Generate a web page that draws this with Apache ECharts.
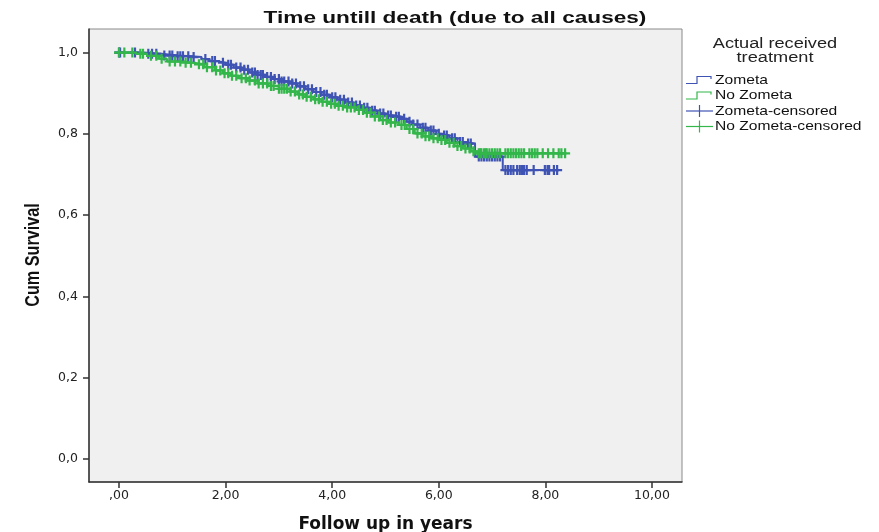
<!DOCTYPE html>
<html>
<head>
<meta charset="utf-8">
<script src="https://cdn.jsdelivr.net/npm/echarts@6/dist/echarts.min.js"></script>
<style>
  html, body { margin: 0; padding: 0; background: #ffffff; }
  #chart { width: 879px; height: 532px; }
</style>
</head>
<body>
<div id="chart"></div>
<script>
// Kaplan-Meier estimates: event times (years) and survival after each event
const zometaTimes = [0.00, 0.45, 0.80, 1.10, 1.35, 1.55, 1.70, 1.85, 2.00, 2.15, 2.30, 2.45, 2.60, 2.75, 2.90, 3.05, 3.20, 3.35, 3.50, 3.65, 3.80, 3.95, 4.10, 4.25, 4.40, 4.55, 4.70, 4.85, 5.00, 5.15, 5.30, 5.40, 5.50, 5.65, 5.80, 5.95, 6.05, 6.20, 6.35, 6.50, 6.68, 7.20];
const zometaSurv  = [1.000, 0.997, 0.993, 0.991, 0.989, 0.984, 0.979, 0.975, 0.970, 0.963, 0.958, 0.951, 0.945, 0.940, 0.935, 0.929, 0.924, 0.917, 0.910, 0.903, 0.896, 0.890, 0.884, 0.877, 0.870, 0.864, 0.857, 0.850, 0.845, 0.842, 0.837, 0.830, 0.823, 0.815, 0.808, 0.800, 0.796, 0.789, 0.780, 0.776, 0.744, 0.711];

const noZometaTimes = [0.00, 0.30, 0.55, 0.75, 0.90, 1.20, 1.40, 1.60, 1.80, 1.95, 2.10, 2.25, 2.40, 2.60, 2.80, 3.00, 3.20, 3.35, 3.50, 3.65, 3.80, 3.95, 4.10, 4.25, 4.45, 4.60, 4.75, 4.90, 5.05, 5.25, 5.40, 5.55, 5.70, 5.85, 6.00, 6.15, 6.30, 6.45, 6.60, 6.72];
const noZometaSurv  = [1.000, 0.997, 0.992, 0.985, 0.978, 0.975, 0.971, 0.964, 0.956, 0.949, 0.943, 0.937, 0.931, 0.924, 0.918, 0.911, 0.904, 0.897, 0.891, 0.885, 0.879, 0.874, 0.869, 0.865, 0.859, 0.852, 0.843, 0.834, 0.828, 0.822, 0.812, 0.801, 0.794, 0.789, 0.785, 0.778, 0.770, 0.764, 0.757, 0.752];

// Censored follow-up times (years)
const zometaCensored = [0.00, 0.02, 0.30, 0.55, 0.62, 0.70, 0.85, 0.95, 1.00, 1.10, 1.15, 1.20, 1.30, 1.40, 1.62, 1.75, 1.80, 1.95, 2.05, 2.10, 2.20, 2.28, 2.35, 2.42, 2.50, 2.55, 2.60, 2.66, 2.70, 2.78, 2.85, 2.92, 3.00, 3.05, 3.10, 3.18, 3.25, 3.32, 3.40, 3.47, 3.55, 3.62, 3.70, 3.78, 3.85, 3.90, 4.00, 4.06, 4.15, 4.22, 4.30, 4.37, 4.45, 4.52, 4.60, 4.66, 4.75, 4.80, 4.90, 4.96, 5.05, 5.10, 5.20, 5.25, 5.35, 5.45, 5.52, 5.60, 5.70, 5.75, 5.85, 5.90, 6.00, 6.10, 6.15, 6.25, 6.30, 6.40, 6.45, 6.55, 6.60, 6.75, 6.80, 6.85, 6.90, 6.95, 7.00, 7.05, 7.10, 7.15, 7.25, 7.30, 7.35, 7.40, 7.47, 7.52, 7.56, 7.60, 7.65, 7.78, 7.99, 8.04, 8.07, 8.16, 8.22];
const noZometaCensored = [0.00, 0.10, 0.25, 0.40, 0.45, 0.60, 0.70, 0.80, 0.95, 1.05, 1.15, 1.25, 1.35, 1.50, 1.58, 1.65, 1.75, 1.82, 1.90, 1.98, 2.05, 2.12, 2.20, 2.30, 2.38, 2.45, 2.55, 2.62, 2.70, 2.78, 2.85, 2.90, 3.00, 3.05, 3.10, 3.15, 3.22, 3.30, 3.38, 3.45, 3.52, 3.60, 3.68, 3.75, 3.82, 3.90, 3.98, 4.05, 4.12, 4.20, 4.28, 4.35, 4.42, 4.50, 4.58, 4.65, 4.72, 4.80, 4.88, 4.95, 5.02, 5.10, 5.18, 5.30, 5.36, 5.45, 5.52, 5.60, 5.68, 5.75, 5.82, 5.90, 5.98, 6.05, 6.12, 6.20, 6.28, 6.35, 6.42, 6.50, 6.58, 6.65, 6.75, 6.78, 6.80, 6.85, 6.88, 6.90, 6.95, 7.00, 7.05, 7.10, 7.15, 7.25, 7.30, 7.35, 7.40, 7.45, 7.50, 7.55, 7.60, 7.70, 7.75, 7.80, 7.85, 7.95, 8.05, 8.15, 8.25, 8.30, 8.37];

// Axis tick values
const xTicks = [0, 2, 4, 6, 8, 10];
const yTicks = [0, 0.2, 0.4, 0.6, 0.8, 1.0];

const chartTitle = 'Time untill death (due to all causes)';
const yTitle = 'Cum Survival';
const legendTitle = ['Actual received', 'treatment'];
const legendNames = ['Zometa', 'No Zometa', 'Zometa-censored', 'No Zometa-censored'];

const BLUE = '#3e53b3';
const GREEN = '#33b64a';
const FONT = '"Liberation Sans", Arial, sans-serif';
const TICK_FONT = '"DejaVu Sans", sans-serif';

// step curve continues flat until the last follow-up time
function stepData(times, surv, censored) {
  const d = times.map((t, i) => [t, surv[i]]);
  const last = censored[censored.length - 1];
  if (last > times[times.length - 1]) d.push([last, surv[surv.length - 1]]);
  return d;
}
// survival estimate in effect at time t
function survAt(times, surv, t) {
  let s = surv[0];
  for (let i = 0; i < times.length; i++) { if (times[i] <= t) s = surv[i]; }
  return s;
}
function censorData(times, surv, censored) {
  return censored.map(t => [t, survAt(times, surv, t)]);
}

const crossPath = 'path://M3.9,0H6.1V10H3.9Z M0,3.9H10V6.1H0Z';

const chart = echarts.init(document.getElementById('chart'), null, { renderer: 'canvas' });

// titles and legend drawn as graphics (widened / condensed type)
const g = [];
g.push({ type: 'text', x: 455, y: 18, scaleX: 1.33,
  style: { text: chartTitle, font: 'bold 17px ' + FONT, fill: '#111', align: 'center', verticalAlign: 'middle' } });
g.push({ type: 'text', x: 33, y: 255, rotation: Math.PI / 2, scaleX: 0.81,
  style: { text: yTitle, font: 'bold 20px ' + FONT, fill: '#111', align: 'center', verticalAlign: 'middle' } });
g.push({ type: 'text', x: 775, y: 44, scaleX: 1.3,
  style: { text: legendTitle[0], font: '14px ' + FONT, fill: '#222', align: 'center', verticalAlign: 'middle' } });
g.push({ type: 'text', x: 775, y: 58, scaleX: 1.3,
  style: { text: legendTitle[1], font: '14px ' + FONT, fill: '#222', align: 'center', verticalAlign: 'middle' } });
const lx = 686, ly0 = 80, dy = 15.5;
const legendColors = [BLUE, GREEN, BLUE, GREEN];
legendNames.forEach((name, i) => {
  const y = ly0 + i * dy;
  if (i < 2) {
    g.push({ type: 'polyline', shape: { points: [[lx, y + 3.5], [lx + 11, y + 3.5], [lx + 11, y - 3.5], [lx + 25, y - 3.5], [lx + 25, y - 1]] },
      style: { stroke: legendColors[i], lineWidth: 1.2, fill: null } });
  } else {
    g.push({ type: 'line', shape: { x1: lx, y1: y, x2: lx + 27, y2: y }, style: { stroke: legendColors[i], lineWidth: 1.2 } });
    g.push({ type: 'line', shape: { x1: lx + 13.5, y1: y - 6, x2: lx + 13.5, y2: y + 6 }, style: { stroke: legendColors[i], lineWidth: 1.2 } });
  }
  g.push({ type: 'text', x: lx + 29, y: y, scaleX: 1.2,
    style: { text: name, font: '13px ' + FONT, fill: '#111', verticalAlign: 'middle' } });
});

const option = {
  backgroundColor: '#ffffff',
  animation: false,
  grid: {
    left: 89, right: 197, top: 29, bottom: 50,
    outerBoundsMode: 'none', containLabel: false,
    show: true, backgroundColor: '#f0f0f0', borderColor: '#8a8a8a', borderWidth: 1
  },
  xAxis: {
    type: 'value', min: -0.563, max: 10.563,
    name: 'Follow up in years', nameLocation: 'middle', nameGap: 34,
    nameTextStyle: { fontFamily: TICK_FONT, fontWeight: 'bold', fontSize: 17, color: '#111' },
    axisLine: { show: true, onZero: false, lineStyle: { color: '#333', width: 1.5 } },
    axisTick: { show: true, length: 6, customValues: xTicks, lineStyle: { color: '#333', width: 1.5 } },
    axisLabel: { customValues: xTicks, margin: 7, fontFamily: TICK_FONT, fontSize: 12.5, color: '#222',
      formatter: v => v === 0 ? ',00' : v.toFixed(2).replace('.', ',') },
    splitLine: { show: false }
  },
  yAxis: {
    type: 'value', min: -0.0566, max: 1.058,
    axisLine: { show: true, onZero: false, lineStyle: { color: '#333', width: 1.5 } },
    axisTick: { show: true, length: 6, customValues: yTicks, lineStyle: { color: '#333', width: 1.5 } },
    axisLabel: { customValues: yTicks, margin: 11, fontFamily: TICK_FONT, fontSize: 12.5, color: '#222',
      formatter: v => v.toFixed(1).replace('.', ',') },
    splitLine: { show: false }
  },
  graphic: g,
  series: [
    { name: 'Zometa', type: 'line', step: 'end', showSymbol: false, symbol: 'none',
      data: stepData(zometaTimes, zometaSurv, zometaCensored),
      lineStyle: { color: BLUE, width: 2 }, z: 2 },
    { name: 'No Zometa', type: 'line', step: 'end', showSymbol: false, symbol: 'none',
      data: stepData(noZometaTimes, noZometaSurv, noZometaCensored),
      lineStyle: { color: GREEN, width: 2 }, z: 3 },
    { name: 'Zometa-censored', type: 'scatter', symbol: crossPath, symbolSize: 10,
      data: censorData(zometaTimes, zometaSurv, zometaCensored),
      itemStyle: { color: BLUE, opacity: 1 }, z: 4 },
    { name: 'No Zometa-censored', type: 'scatter', symbol: crossPath, symbolSize: 10,
      data: censorData(noZometaTimes, noZometaSurv, noZometaCensored),
      itemStyle: { color: GREEN, opacity: 1 }, z: 5 }
  ]
};
chart.setOption(option);
</script>
</body>
</html>
